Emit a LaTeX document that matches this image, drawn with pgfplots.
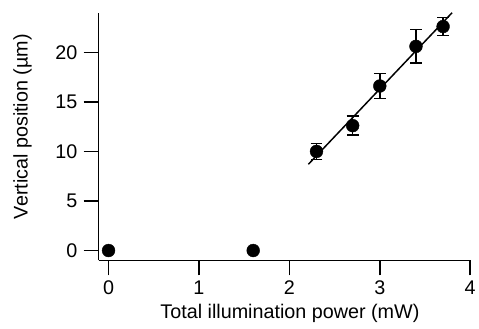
\documentclass[border={10bp 2bp 0bp 12bp}]{standalone}
\usepackage{fontspec}
\setmainfont{Liberation Sans}
\usepackage{pgfplots}
\pgfplotsset{compat=1.18}
\begin{document}
\begin{tikzpicture}
\begin{axis}[
  scale only axis,
  width=375bp, height=250bp,
  xmin=-0.11, xmax=4, ymin=-1, ymax=24,
  axis x line*=bottom, axis y line*=left,
  axis line style={line width=1.6pt},
  xtick={0,1,2,3,4}, ytick={0,5,10,15,20},
  tick align=outside,
  x tick style={line width=1.6pt, black}, y tick style={line width=1.6pt, black},
  major tick length=15bp,
  xticklabel style={font=\fontsize{20}{22}\selectfont, yshift=-2bp},
  yticklabel style={font=\fontsize{20}{22}\selectfont, xshift=-3bp},
  /pgf/number format/assume math mode=true,
  xlabel={Total illumination power (mW)},
  ylabel={Vertical position (µm)},
  every axis x label/.style={at={(axis description cs:0.515,-0.215)}, anchor=center, font=\fontsize{20}{22}\selectfont},
  every axis y label/.style={at={(axis description cs:-0.205,0.54)}, anchor=center, rotate=90, font=\fontsize{20}{22}\selectfont},
  clip=false,
]
\addplot[black, line width=1.5pt, no marks] coordinates {(2.21,8.7) (3.8,24.0)};
\addplot[only marks, mark=*, mark size=6.5bp, black,
  error bars/.cd, y dir=both, y explicit,
  error bar style={line width=1.6pt},
  error mark options={rotate=90, mark size=6bp, line width=1.6pt}]
  coordinates {
  (0,0) +- (0,0)
  (1.6,0) +- (0,0)
  (2.3,10.0) +- (0,0.8)
  (2.7,12.6) +- (0,0.95)
  (3.0,16.6) +- (0,1.25)
  (3.4,20.6) +- (0,1.7)
  (3.7,22.6) +- (0,0.9)
  };
\end{axis}
\end{tikzpicture}
\end{document}
